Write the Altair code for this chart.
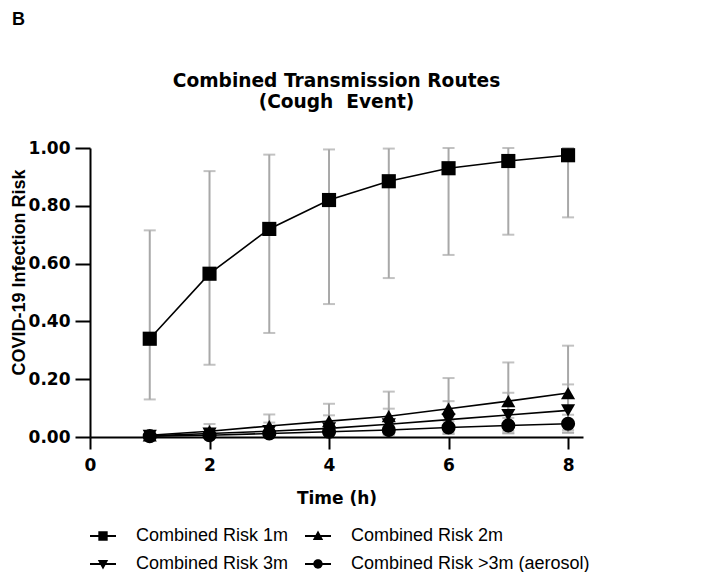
import altair as alt
import pandas as pd

# ---- data ----
times = [1, 2, 3, 4, 5, 6, 7, 8]
series_names = ["Combined Risk 1m", "Combined Risk 2m", "Combined Risk 3m",
                "Combined Risk >3m (aerosol)"]
risk_1m = [0.34, 0.565, 0.72, 0.82, 0.885, 0.93, 0.955, 0.975]
upper_1m = [0.715, 0.92, 0.977, 0.995, 0.998, 1.0, 1.0, 1.0]
lower_1m = [0.13, 0.25, 0.36, 0.46, 0.55, 0.63, 0.70, 0.76]
risk_2m = [0.006, 0.02, 0.038, 0.055, 0.072, 0.098, 0.124, 0.152]
upper_2m = [0.015, 0.045, 0.078, 0.115, 0.157, 0.204, 0.258, 0.316]
lower_2m = [0.002, 0.005, 0.009, 0.012, 0.015, 0.018, 0.021, 0.024]
risk_3m = [0.004, 0.012, 0.02, 0.03, 0.044, 0.06, 0.076, 0.092]
upper_3m = [0.008, 0.028, 0.05, 0.075, 0.098, 0.124, 0.153, 0.182]
lower_3m = [0.001, 0.003, 0.005, 0.007, 0.009, 0.011, 0.013, 0.015]
risk_aer = [0.003, 0.006, 0.012, 0.018, 0.024, 0.033, 0.04, 0.046]
upper_aer = [0.006, 0.012, 0.022, 0.032, 0.042, 0.055, 0.066, 0.077]
lower_aer = [0.001, 0.002, 0.004, 0.006, 0.008, 0.011, 0.013, 0.015]

x_ticks = [0, 2, 4, 6, 8]
y_ticks = [0.0, 0.2, 0.4, 0.6, 0.8, 1.0]
title_lines = ["Combined Transmission Routes", "(Cough\u00a0 Event)"]
panel_label = "B"

rows = []
for name, r, u, l in zip(series_names,
                         [risk_1m, risk_2m, risk_3m, risk_aer],
                         [upper_1m, upper_2m, upper_3m, upper_aer],
                         [lower_1m, lower_2m, lower_3m, lower_aer]):
    for t, rv, uv, lv in zip(times, r, u, l):
        rows.append({"time": t, "series": name, "risk": rv, "upper": uv, "lower": lv})
df = pd.DataFrame(rows)

FONT = "Liberation Sans"
BOLDFONT = "DejaVu Sans"
W, H = 493, 289

xs = alt.X("time:Q", scale=alt.Scale(domain=[0, 8.25], nice=False),
           axis=alt.Axis(values=x_ticks, format="d", title="Time (h)",
                         labelFontSize=17, labelFontWeight="bold", labelFont=BOLDFONT,
                         labelColor="black", labelPadding=8, labelFlush=False,
                         tickSize=12, tickWidth=2, tickColor="black", domainWidth=2,
                         domainColor="black", grid=False, titleFontSize=17,
                         titleFont=BOLDFONT, titleFontWeight="bold", titleColor="black",
                         titlePadding=17))
ys = alt.Y("risk:Q", scale=alt.Scale(domain=[0, 1], nice=False),
           axis=alt.Axis(values=y_ticks, format=".2f", title="COVID-19 Infection Risk",
                         labelFontSize=17, labelFontWeight="bold", labelFont=BOLDFONT,
                         labelColor="black", labelPadding=5, labelFlush=False,
                         tickSize=15, tickWidth=2, tickColor="black", domainWidth=2,
                         domainColor="black", grid=False, titleFontSize=18,
                         titleFont=FONT, titleFontWeight="bold", titleColor="black",
                         titleX=-66, titleY=124, titleAlign="center",
                         titleBaseline="alphabetic", titleAngle=270))

base = alt.Chart(df)
GREY = "#a8a8a8"

bars = base.mark_rule(color=GREY, strokeWidth=2).encode(
    x=xs, y=alt.Y("lower:Q"), y2="upper:Q", detail="series:N")
caps_up = base.mark_tick(color=GREY, orient="horizontal", size=12, thickness=2).encode(
    x=xs, y=alt.Y("upper:Q"), detail="series:N")
caps_lo = base.mark_tick(color=GREY, orient="horizontal", size=12, thickness=2).encode(
    x=xs, y=alt.Y("lower:Q"), detail="series:N")

lines = base.mark_line(color="black", strokeWidth=1.6).encode(
    x=xs, y=ys, detail="series:N")

points = base.mark_point(filled=True, color="black", opacity=1, size=200).encode(
    x=xs, y=ys,
    shape=alt.Shape("series:N",
                    scale=alt.Scale(domain=series_names,
                                    range=["square", "triangle-up", "triangle-down", "circle"]),
                    legend=None))

# legend glyphs: a short line with the marker on top (all sub-paths clockwise)
BAR = "M-1,-0.075H1V0.075H-1Z"
legend_paths = [
    BAR + "M-0.36,-0.36H0.36V0.36H-0.36Z",
    BAR + "M0,-0.42L0.4,0.3H-0.4Z",
    BAR + "M0,0.42L-0.4,-0.3H0.4Z",
    BAR + "M0.36,0A0.36,0.36,0,1,1,-0.36,0A0.36,0.36,0,1,1,0.36,0Z",
]

legend_layer = base.mark_point(filled=True, color="black", opacity=1, clip=True).encode(
    x=alt.value(-3000), y=alt.value(-3000),
    shape=alt.Shape("series:N",
                    scale=alt.Scale(domain=series_names, range=legend_paths),
                    legend=alt.Legend(title=None, orient="none", legendX=0, legendY=375,
                                      direction="horizontal", columns=2,
                                      symbolSize=676, symbolStrokeWidth=0,
                                      symbolFillColor="black", symbolOpacity=1,
                                      labelFontSize=18, labelFont=FONT, labelColor="black",
                                      labelOffset=20, columnPadding=16, rowPadding=6,
                                      labelLimit=400)))

label_b = alt.Chart(pd.DataFrame({"t": [panel_label]})).mark_text(
    fontSize=18, fontWeight="bold", font=FONT, align="left", baseline="alphabetic",
    color="black").encode(text="t:N", x=alt.value(-78), y=alt.value(-123))

title_txt = alt.Chart(pd.DataFrame({"t": ["\n".join(title_lines)]})).mark_text(
    fontSize=18.6, fontWeight="bold", font=BOLDFONT, align="center", baseline="alphabetic",
    color="black", lineBreak="\n", lineHeight=21).encode(
    text="t:N", x=alt.value(W / 2), y=alt.value(-61))

chart = alt.layer(bars, caps_up, caps_lo, lines, points, legend_layer, label_b,
                  title_txt).resolve_scale(
    shape="independent"
).properties(
    width=W, height=H,
    autosize=alt.AutoSizeParams(type="none"),
    padding={"left": 82, "top": 140, "right": 116, "bottom": 135},
).configure_view(stroke=None).configure_legend(padding=0)

chart.save("out.html", embed_options={"renderer": "svg", "actions": False})
